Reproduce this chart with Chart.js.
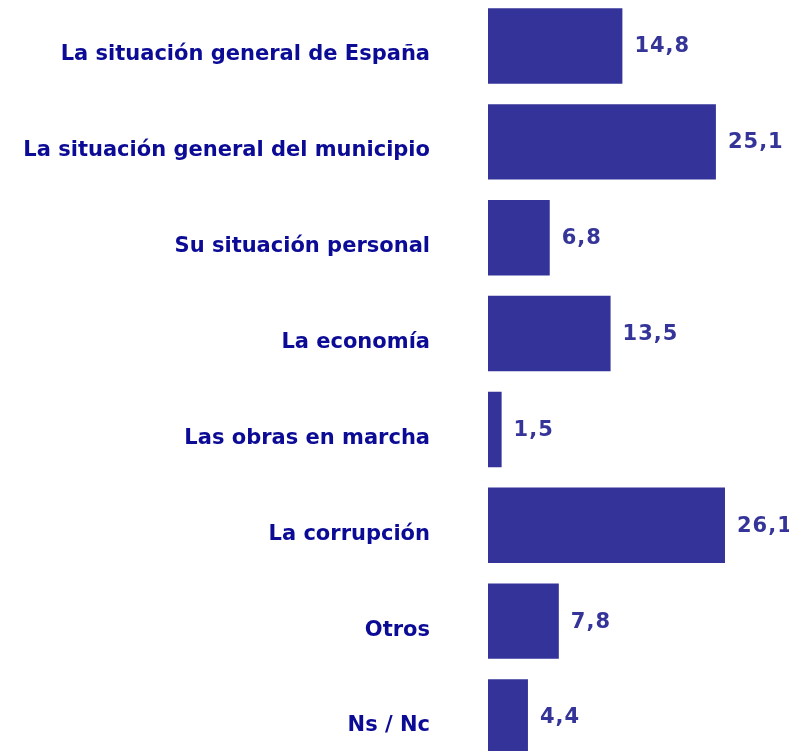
<!DOCTYPE html>
<html>
<head>
  <meta charset="utf-8">
  <title>Motivos</title>
  <style>
    html, body { margin: 0; padding: 0; background: #fff; overflow: hidden; }
    .chart-box { position: relative; width: 789px; height: 767px; margin-top: -2px; }
  </style>
</head>
<body>
  <div class="chart-box">
    <canvas id="myChart" width="789" height="767"></canvas>
  </div>

  <script src="https://cdn.jsdelivr.net/npm/chart.js"></script>
  <script>
    // datos
    const categorias = [
      'La situación general de España',
      'La situación general del municipio',
      'Su situación personal',
      'La economía',
      'Las obras en marcha',
      'La corrupción',
      'Otros',
      'Ns / Nc'
    ];
    const valores = [14.8, 25.1, 6.8, 13.5, 1.5, 26.1, 7.8, 4.4];

    // estilos
    const fuente = 'Verdana, "DejaVu Sans", sans-serif';
    const colorBarra = '#333399';
    const colorEtiqueta = '#0b0b96';
    const colorValor = '#353599';

    // etiquetas de valor al final de cada barra
    const valorPlugin = {
      id: 'valorPlugin',
      afterDatasetsDraw(chart) {
        const ctx = chart.ctx;
        const meta = chart.getDatasetMeta(0);
        ctx.save();
        ctx.font = 'bold 21px ' + fuente;
        ctx.fillStyle = colorValor;
        ctx.textAlign = 'left';
        ctx.textBaseline = 'middle';
        ctx.letterSpacing = '1px';
        meta.data.forEach((bar, i) => {
          const txt = valores[i].toFixed(1).replace('.', ',');
          ctx.fillText(txt, bar.x + 12, bar.y + 1);
        });
        ctx.restore();
      }
    };

    const config = {
      type: 'bar',
      data: {
        labels: categorias,
        datasets: [{
          data: valores,
          backgroundColor: colorBarra,
          borderWidth: 0,
          barPercentage: 0.7875,
          categoryPercentage: 1
        }]
      },
      options: {
        indexAxis: 'y',
        responsive: false,
        animation: false,
        devicePixelRatio: 1,
        layout: { padding: 0 },
        plugins: {
          legend: { display: false },
          tooltip: { enabled: false }
        },
        scales: {
          x: {
            display: false,
            min: 0,
            max: 33.15
          },
          y: {
            grid: { display: false, drawTicks: true, tickLength: 58 },
            border: { display: false },
            ticks: {
              color: colorEtiqueta,
              font: { family: fuente, size: 21, weight: 'bold', lineHeight: 0.01 },
              padding: 0,
              labelOffset: 9
            },
            afterFit(scale) {
              scale.width = 488;
            }
          }
        }
      },
      plugins: [valorPlugin]
    };

    var ctx = document.getElementById('myChart').getContext('2d');
    var myChart = new Chart(ctx, config);
  </script>
</body>
</html>
